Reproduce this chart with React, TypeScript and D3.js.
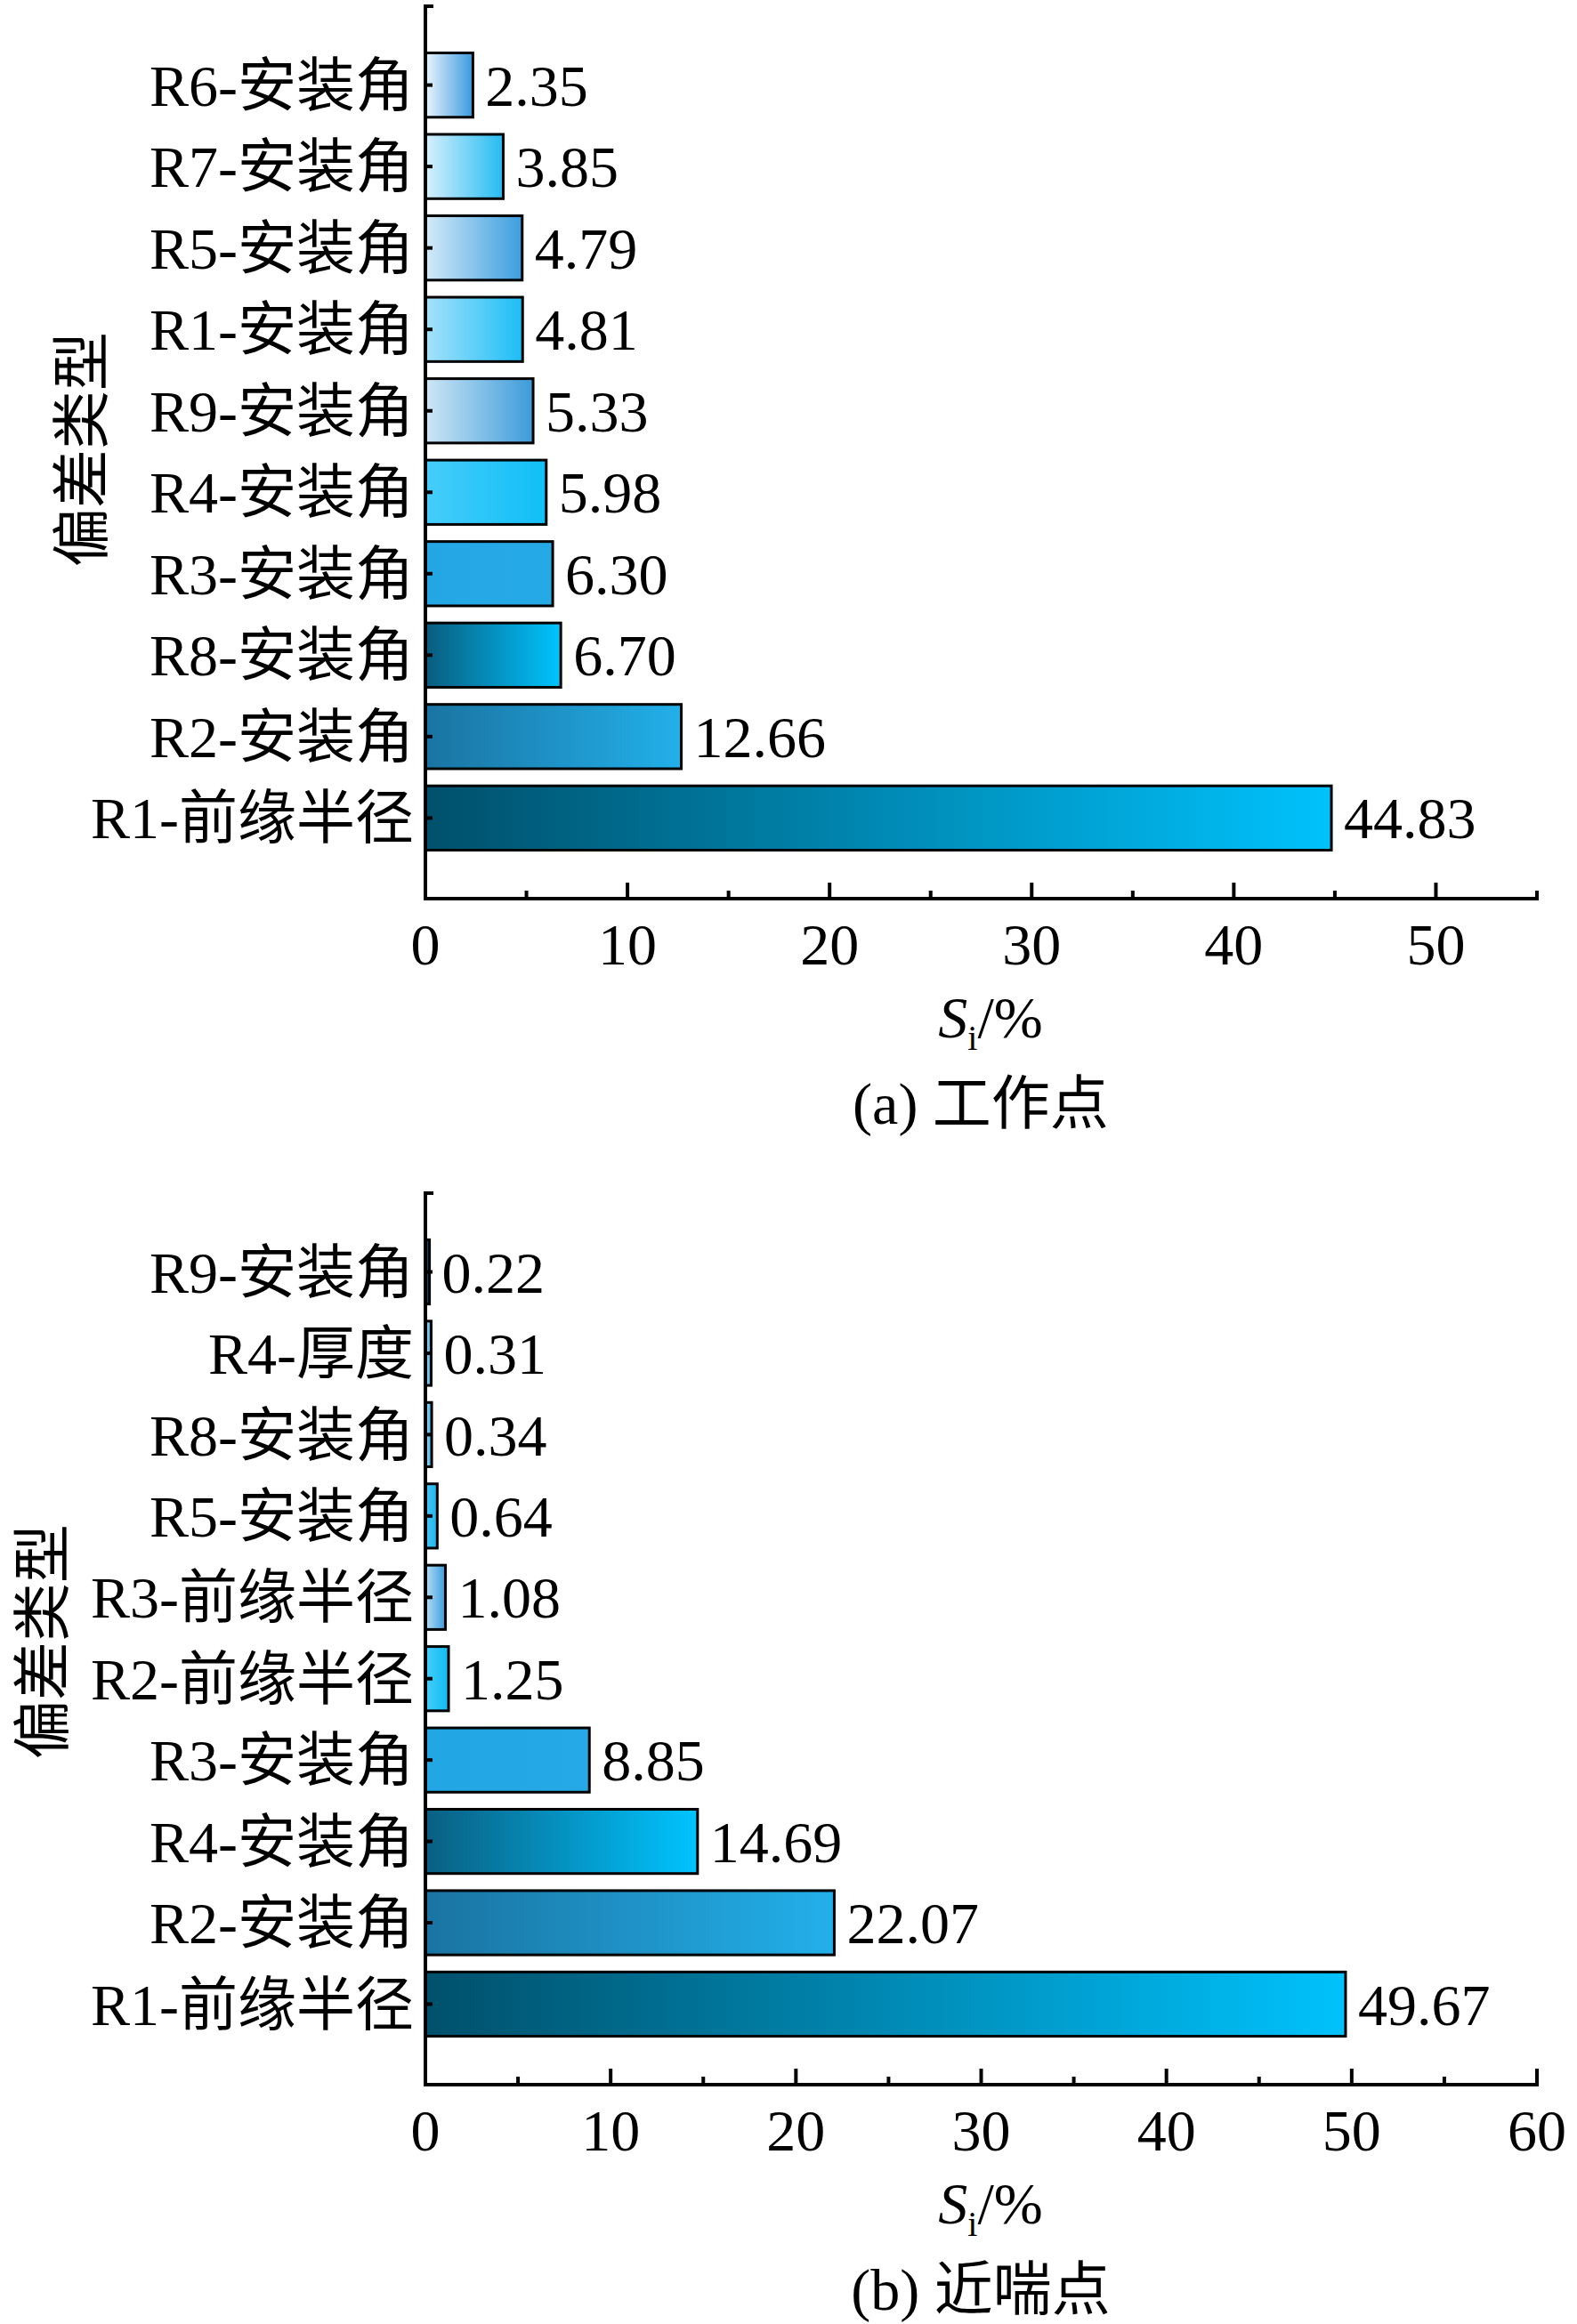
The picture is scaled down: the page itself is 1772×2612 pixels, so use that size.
import React from 'react';
import * as d3 from 'd3';

// (a) working point
const catsA = ['R6-安装角', 'R7-安装角', 'R5-安装角', 'R1-安装角', 'R9-安装角', 'R4-安装角', 'R3-安装角', 'R8-安装角', 'R2-安装角', 'R1-前缘半径'];
const valsA = [2.35, 3.85, 4.79, 4.81, 5.33, 5.98, 6.30, 6.70, 12.66, 44.83];
const gradA: [string, string][] = [
  ['#eaf5fc', '#3a9ade'],
  ['#d8f0fc', '#24bcf2'],
  ['#d4ebf8', '#3a9ddf'],
  ['#a6e2fb', '#1cbdf6'],
  ['#cfe7f6', '#3b9bda'],
  ['#46cdfa', '#10bff7'],
  ['#24a6e4', '#26aae6'],
  ['#0a5c7e', '#00c4ff'],
  ['#1a74a2', '#22b0ea'],
  ['#00506b', '#00c2fc'],
];
const ticksA = [0, 10, 20, 30, 40, 50];

// (b) near-surge point
const catsB = ['R9-安装角', 'R4-厚度', 'R8-安装角', 'R5-安装角', 'R3-前缘半径', 'R2-前缘半径', 'R3-安装角', 'R4-安装角', 'R2-安装角', 'R1-前缘半径'];
const valsB = [0.22, 0.31, 0.34, 0.64, 1.08, 1.25, 8.85, 14.69, 22.07, 49.67];
const gradB: [string, string][] = [
  ['#0a3d52', '#0a5c7e'],
  ['#a6dcf6', '#3ab0ea'],
  ['#a6dcf6', '#3ab0ea'],
  ['#46c6f6', '#20b4ee'],
  ['#b8def5', '#3a9ddf'],
  ['#46cdfa', '#10bcf4'],
  ['#22a6e4', '#26aae6'],
  ['#0a5f82', '#00c4ff'],
  ['#1a74a2', '#22b0ea'],
  ['#00506b', '#00c2fc'],
];
const ticksB = [0, 10, 20, 30, 40, 50, 60];

const FONT = '"Liberation Serif", "Times New Roman", "Noto Sans CJK SC", serif';
const FS = 66;
const X0 = 478;
const X1 = 1727;

interface PanelProps {
  id: string;
  cats: string[];
  vals: number[];
  grads: [string, string][];
  ticks: number[];
  xMax: number;
  top: number;
  bottom: number;
  caption: string;
  titleX: number;
  titleY: number;
}

const Panel: React.FC<PanelProps> = ({ id, cats, vals, grads, ticks, xMax, top, bottom, caption, titleX, titleY }) => {
  const x = d3.scaleLinear().domain([0, xMax]).range([X0, X1]);
  const y = d3.scaleBand<string>().domain(cats).range([top, bottom]).paddingInner(0.21).paddingOuter(0.595);
  const minor = d3.range(5, xMax + 0.1, 10);

  return (
    <g>
      <defs>
        {grads.map((g, i) => (
          <linearGradient key={i} id={`${id}-g${i}`} x1="0" y1="0" x2="1" y2="0">
            <stop offset="0%" stopColor={g[0]} />
            <stop offset="100%" stopColor={g[1]} />
          </linearGradient>
        ))}
      </defs>

      {/* bars */}
      {cats.map((c, i) => (
        <rect
          key={c}
          x={x(0)}
          y={y(c)}
          width={x(vals[i]) - x(0)}
          height={y.bandwidth()}
          fill={`url(#${id}-g${i})`}
          stroke="#000"
          strokeWidth={3}
        />
      ))}

      {/* value labels */}
      {cats.map((c, i) => (
        <text key={c} x={x(vals[i]) + 14} y={(y(c) ?? 0) + y.bandwidth() / 2} dy="0.35em" fontSize={FS} fontFamily={FONT}>
          {vals[i].toFixed(2)}
        </text>
      ))}

      {/* category labels + y ticks */}
      {cats.map((c) => {
        const cy = (y(c) ?? 0) + y.bandwidth() / 2;
        return (
          <g key={c}>
            <line x1={X0} x2={X0 + 8} y1={cy} y2={cy} stroke="#000" strokeWidth={4} />
            <text x={465} y={cy} dy="0.35em" textAnchor="end" fontSize={FS} fontFamily={FONT}>{c}</text>
          </g>
        );
      })}

      {/* axes */}
      <line x1={X0} x2={X0} y1={top} y2={bottom + 2} stroke="#000" strokeWidth={4} />
      <line x1={X0} x2={X0 + 9} y1={top + 2} y2={top + 2} stroke="#000" strokeWidth={4} />
      <line x1={X0 - 2} x2={X1 + 2} y1={bottom} y2={bottom} stroke="#000" strokeWidth={4} />
      {ticks.map((t) => (
        <g key={t}>
          <line x1={x(t)} x2={x(t)} y1={bottom} y2={bottom - 18} stroke="#000" strokeWidth={4} />
          <text x={x(t)} y={bottom + 51} dy="0.35em" textAnchor="middle" fontSize={FS} fontFamily={FONT}>{t}</text>
        </g>
      ))}
      {minor.map((t) => (
        <line key={t} x1={x(t)} x2={x(t)} y1={bottom} y2={bottom - 9} stroke="#000" strokeWidth={4} />
      ))}

      {/* axis titles */}
      <text x={1113} y={bottom + 133} dy="0.35em" textAnchor="middle" fontSize={FS} fontFamily={FONT}>
        <tspan fontStyle="italic">S</tspan>
        <tspan fontSize={40} dy="14">i</tspan>
        <tspan dy="-14">/%</tspan>
      </text>
      <text x={1102} y={bottom + 230} dy="0.35em" textAnchor="middle" fontSize={FS} fontFamily={FONT}>{caption}</text>
      <text
        transform={`translate(${titleX},${titleY}) rotate(-90)`}
        dy="0.35em"
        textAnchor="middle"
        fontSize={FS}
        fontFamily={FONT}
      >
        偏差类型
      </text>
    </g>
  );
};

export default function App() {
  return (
    <svg
      width={1772}
      height={2612}
      viewBox="0 0 1772 2612"
      style={{ position: 'absolute', left: 0, top: 0, background: '#fff' }}
    >
      <rect width={1772} height={2612} fill="#fff" />
      <Panel
        id="a"
        cats={catsA}
        vals={valsA}
        grads={gradA}
        ticks={ticksA}
        xMax={55}
        top={5}
        bottom={1010}
        caption="(a) 工作点"
        titleX={92}
        titleY={505}
      />
      <Panel
        id="b"
        cats={catsB}
        vals={valsB}
        grads={gradB}
        ticks={ticksB}
        xMax={60}
        top={1339}
        bottom={2343}
        caption="(b) 近喘点"
        titleX={48}
        titleY={1845}
      />
    </svg>
  );
}
